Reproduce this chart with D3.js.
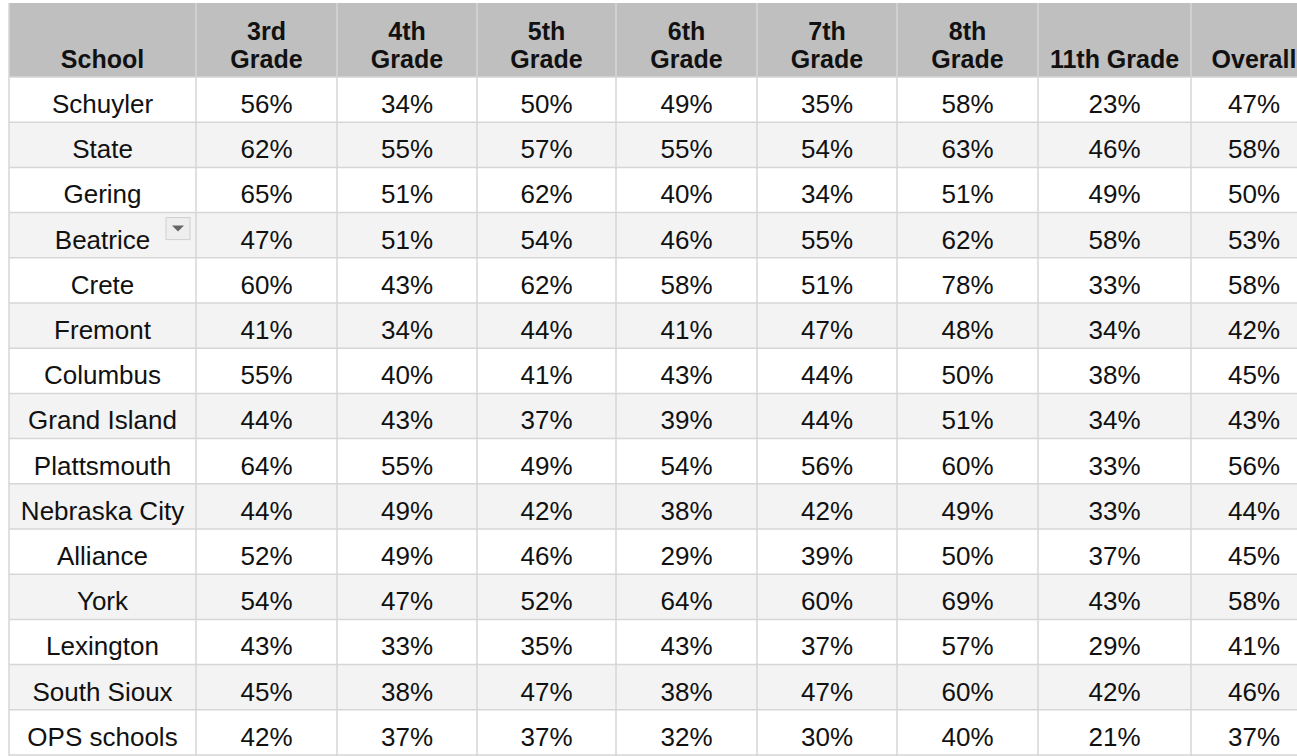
<!DOCTYPE html>
<html lang="en">

<head>
  <meta charset="UTF-8">
  <title>School proficiency by grade</title>
  <script src="https://d3js.org/d3.v7.min.js"></script>
  <style>
    body { margin: 0; background: #fff; overflow: hidden; }
    svg { display: block; font-family: "Liberation Sans", Arial, sans-serif; }
  </style>
</head>

<body>
  <div id="tbl"></div>

  <script>
    // data
    const schools = ["Schuyler", "State", "Gering", "Beatrice", "Crete", "Fremont", "Columbus", "Grand Island",
      "Plattsmouth", "Nebraska City", "Alliance", "York", "Lexington", "South Sioux", "OPS schools"];
    const headers = [["School"], ["3rd", "Grade"], ["4th", "Grade"], ["5th", "Grade"], ["6th", "Grade"],
      ["7th", "Grade"], ["8th", "Grade"], ["11th Grade"], ["Overall"]];
    const grade3 = [56, 62, 65, 47, 60, 41, 55, 44, 64, 44, 52, 54, 43, 45, 42];
    const grade4 = [34, 55, 51, 51, 43, 34, 40, 43, 55, 49, 49, 47, 33, 38, 37];
    const grade5 = [50, 57, 62, 54, 62, 44, 41, 37, 49, 42, 46, 52, 35, 47, 37];
    const grade6 = [49, 55, 40, 46, 58, 41, 43, 39, 54, 38, 29, 64, 43, 38, 32];
    const grade7 = [35, 54, 34, 55, 51, 47, 44, 44, 56, 42, 39, 60, 37, 47, 30];
    const grade8 = [58, 63, 51, 62, 78, 48, 50, 51, 60, 49, 50, 69, 57, 60, 40];
    const grade11 = [23, 46, 49, 58, 33, 34, 38, 34, 33, 33, 37, 43, 29, 42, 21];
    const overall = [47, 58, 50, 53, 58, 42, 45, 43, 56, 44, 45, 58, 41, 46, 37];
    const series = [grade3, grade4, grade5, grade6, grade7, grade8, grade11, overall];

    // layout
    const W = 1297, H = 756;
    const tblLeft = 9, tblTop = 3, headH = 74, rowH = 45.2;
    const colW = [187, 141, 140, 139, 141, 140, 141, 153, 126];
    const edges = [tblLeft, ...d3.cumsum(colW).map(v => v + tblLeft)];

    const x = i => edges[i];
    const y = d3.scaleBand()
      .domain(d3.range(schools.length))
      .range([tblTop + headH, tblTop + headH + rowH * schools.length])
      .padding(0);

    const fmt = d3.format(".0%");

    const svg = d3.select("#tbl")
      .append("svg")
      .attr("width", W)
      .attr("height", H);

    // header background
    svg.append("rect")
      .attr("x", tblLeft)
      .attr("y", tblTop)
      .attr("width", edges[edges.length - 1] - tblLeft)
      .attr("height", headH)
      .attr("fill", "#bfbfbf");

    // row backgrounds (alternating)
    svg.selectAll("rect.row")
      .data(schools)
      .enter()
      .append("rect")
      .attr("class", "row")
      .attr("x", tblLeft)
      .attr("y", (d, i) => y(i))
      .attr("width", edges[edges.length - 1] - tblLeft)
      .attr("height", y.bandwidth())
      .attr("fill", (d, i) => i % 2 ? "#f3f3f3" : "#ffffff");

    // grid lines
    svg.selectAll("line.h")
      .data(d3.range(schools.length + 1))
      .enter()
      .append("line")
      .attr("x1", tblLeft)
      .attr("x2", W + 40)
      .attr("y1", i => i < schools.length ? y(i) : y.range()[1])
      .attr("y2", i => i < schools.length ? y(i) : y.range()[1])
      .attr("stroke", "#d6d6d6")
      .attr("stroke-width", 1.5);

    svg.selectAll("line.v")
      .data(edges)
      .enter()
      .append("line")
      .attr("x1", d => d)
      .attr("x2", d => d)
      .attr("y1", tblTop)
      .attr("y2", H)
      .attr("stroke", "#d6d6d6")
      .attr("stroke-width", 1.5);

    // header text (two-line headers stack upwards from the bottom line)
    headers.forEach((lines, c) => {
      const cx = (x(c) + x(c + 1)) / 2;
      const t = svg.append("text")
        .attr("text-anchor", "middle")
        .attr("font-size", "25px")
        .attr("font-weight", "bold")
        .attr("fill", "#111");
      lines.forEach((s, k) => {
        t.append("tspan")
          .attr("x", cx)
          .attr("y", tblTop + 65 - (lines.length - 1 - k) * 28)
          .text(s);
      });
    });

    // school names
    svg.selectAll("text.school")
      .data(schools)
      .enter()
      .append("text")
      .attr("class", "school")
      .attr("x", (x(0) + x(1)) / 2)
      .attr("y", (d, i) => y(i) + 36)
      .attr("text-anchor", "middle")
      .attr("font-size", "26px")
      .attr("fill", "#111")
      .text(d => d);

    // values
    series.forEach((vals, s) => {
      const cx = (x(s + 1) + x(s + 2)) / 2;
      svg.selectAll("text.v" + s)
        .data(vals)
        .enter()
        .append("text")
        .attr("x", cx)
        .attr("y", (d, i) => y(i) + 36)
        .attr("text-anchor", "middle")
        .attr("font-size", "26px")
        .attr("fill", "#111")
        .text(d => fmt(d / 100));
    });

    // little dropdown marker beside Beatrice
    const bi = schools.indexOf("Beatrice");
    const dd = svg.append("g")
      .attr("transform", `translate(${x(1) - 30},${y(bi) + 5})`);
    dd.append("rect")
      .attr("width", 24)
      .attr("height", 22)
      .attr("fill", "#eeeeee")
      .attr("stroke", "#cfcfcf");
    dd.append("path")
      .attr("d", "M6,8 L18,8 L12,14 Z")
      .attr("fill", "#666");
  </script>
</body>

</html>
